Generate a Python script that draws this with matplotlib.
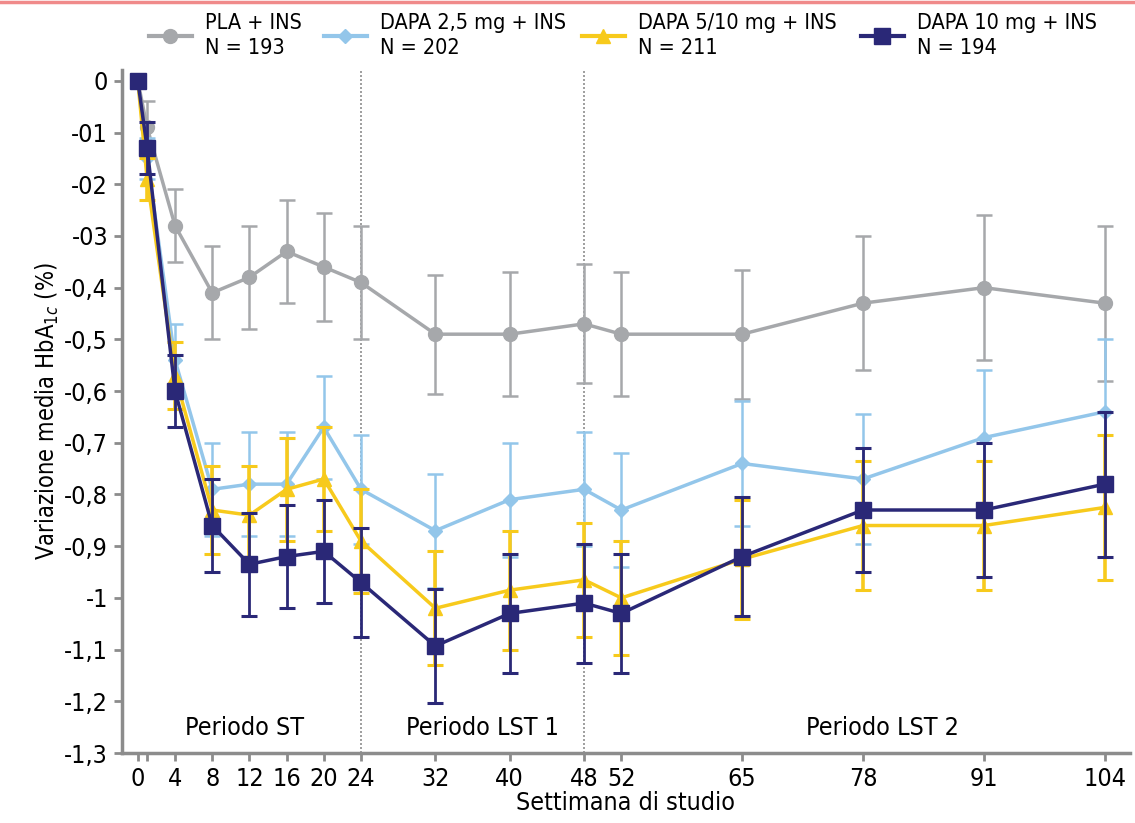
import numpy as np
import matplotlib
matplotlib.use("Agg")
import matplotlib.pyplot as plt
from matplotlib.lines import Line2D

plt.rcParams['font.family'] = ['DejaVu Sans']
plt.rcParams['font.stretch'] = 'condensed'

# weeks
weeks = [0, 1, 4, 8, 12, 16, 20, 24, 32, 40, 48, 52, 65, 78, 91, 104]

# mean change HbA1c (%) and error (half-width)
pla = [0, -0.09, -0.28, -0.41, -0.38, -0.33, -0.36, -0.39, -0.49, -0.49, -0.47, -0.49, -0.49, -0.43, -0.40, -0.43]
pla_err = [0, 0.05, 0.07, 0.09, 0.10, 0.10, 0.105, 0.11, 0.115, 0.12, 0.115, 0.12, 0.125, 0.13, 0.14, 0.15]

d25 = [0, -0.15, -0.54, -0.79, -0.78, -0.78, -0.67, -0.79, -0.87, -0.81, -0.79, -0.83, -0.74, -0.77, -0.69, -0.64]
d25_err = [0, 0.04, 0.07, 0.09, 0.10, 0.10, 0.10, 0.105, 0.11, 0.11, 0.11, 0.11, 0.12, 0.125, 0.13, 0.14]

d510 = [0, -0.19, -0.57, -0.83, -0.84, -0.79, -0.77, -0.89, -1.02, -0.985, -0.965, -1.00, -0.925, -0.86, -0.86, -0.825]
d510_err = [0, 0.04, 0.065, 0.085, 0.095, 0.10, 0.10, 0.10, 0.11, 0.115, 0.11, 0.11, 0.115, 0.125, 0.125, 0.14]

d10 = [0, -0.13, -0.60, -0.86, -0.935, -0.92, -0.91, -0.97, -1.093, -1.03, -1.01, -1.03, -0.92, -0.83, -0.83, -0.78]
d10_err = [0, 0.05, 0.07, 0.09, 0.10, 0.10, 0.10, 0.105, 0.11, 0.115, 0.115, 0.115, 0.115, 0.12, 0.13, 0.14]

labels = ['PLA + INS\nN = 193', 'DAPA 2,5 mg + INS\nN = 202',
          'DAPA 5/10 mg + INS\nN = 211', 'DAPA 10 mg + INS\nN = 194']

xtick_pos = [0, 1, 4, 8, 12, 16, 20, 24, 32, 40, 48, 52, 65, 78, 91, 104]
xtick_lab = ['0', '', '4', '8', '12', '16', '20', '24', '32', '40', '48', '52', '65', '78', '91', '104']
ytick_pos = [0, -0.1, -0.2, -0.3, -0.4, -0.5, -0.6, -0.7, -0.8, -0.9, -1.0, -1.1, -1.2, -1.3]
ytick_lab = ['0', '-01', '-02', '-03', '-0,4', '-0,5', '-0,6', '-0,7', '-0,8', '-0,9',
             '-1', '-1,1', '-1,2', '-1,3']

periods = ['Periodo ST', 'Periodo LST 1', 'Periodo LST 2']
period_x = [11.5, 37.1, 80.1]

c_gray = '#a6a8ab'
c_blue = '#93c6ea'
c_yel = '#f7ca1c'
c_navy = '#2a2877'

fig = plt.figure(figsize=(11.35, 8.23), dpi=100)
ax = fig.add_axes([0.1075, 0.085, 0.888, 0.83])

# period separators
for xv in [24, 48]:
    ax.axvline(xv, color='#8f8f8f', lw=1.2, ls=(0, (1.2, 1.2)), zorder=1)

ax.errorbar(weeks, pla, yerr=pla_err, color=c_gray, marker='o', ms=10, lw=2.5,
            elinewidth=1.8, capsize=6, capthick=1.8, zorder=3)
ax.errorbar(weeks, d25, yerr=d25_err, color=c_blue, marker='D', ms=7, lw=2.5,
            elinewidth=1.8, capsize=6, capthick=1.8, zorder=4)
ax.errorbar(weeks, d510, yerr=d510_err, color=c_yel, marker='^', ms=10, lw=2.5,
            elinewidth=2.6, capsize=6, capthick=2.2, zorder=5)
ax.errorbar(weeks, d10, yerr=d10_err, color=c_navy, marker='s', ms=12, lw=2.5,
            elinewidth=2.0, capsize=6, capthick=2.2, zorder=6)

ax.set_xlim(-1.7, 106.7)
ax.set_ylim(-1.3, 0.021)

ax.set_xticks(xtick_pos)
ax.set_xticklabels(xtick_lab, fontsize=18)
ax.set_yticks(ytick_pos)
ax.set_yticklabels(ytick_lab, fontsize=18)
ax.tick_params(axis='both', direction='out', length=6, width=2, color='#8c8c8c', pad=4)

for s in ['top', 'right']:
    ax.spines[s].set_visible(False)
for s in ['left', 'bottom']:
    ax.spines[s].set_color('#8c8c8c')
    ax.spines[s].set_linewidth(2.5)

ax.set_xlabel('Settimana di studio', fontsize=18, labelpad=0)
ax.set_ylabel('Variazione media HbA$_{1c}$ (%)', fontsize=17, labelpad=2)

for t, xp in zip(periods, period_x):
    ax.text(xp, -1.252, t, fontsize=18, ha='center', va='center')

# legend, one entry per block along the top
handles = [
    Line2D([], [], color=c_gray, marker='o', ms=10, lw=3),
    Line2D([], [], color=c_blue, marker='D', ms=7, lw=3),
    Line2D([], [], color=c_yel, marker='^', ms=10, lw=3),
    Line2D([], [], color=c_navy, marker='s', ms=11, lw=3),
]
leg_x = [0.1216, 0.2758, 0.5031, 0.7489]
for h, lab, lx in zip(handles, labels, leg_x):
    leg = fig.legend([h], [lab], loc='upper left', bbox_to_anchor=(lx, 0.997),
                     frameon=False, fontsize=15.5, handlelength=2.0, handletextpad=0.6,
                     borderaxespad=0.1)
    for t in leg.get_texts():
        t.set_linespacing(1.3)

# thin red line at the top edge
fig.add_artist(Line2D([0, 1], [0.998, 0.998], transform=fig.transFigure,
                      color='#f08a8a', lw=2.5))

fig.savefig('out.png', dpi=100)
